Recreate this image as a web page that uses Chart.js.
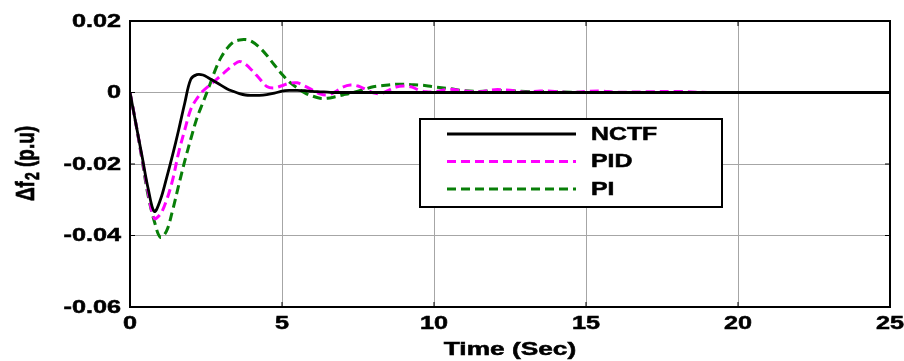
<!DOCTYPE html>
<html>
<head>
<meta charset="utf-8">
<script src="https://cdn.jsdelivr.net/npm/chart.js@4.4.0/dist/chart.umd.min.js"></script>
<style>
  body { margin: 0; background: #fff; }
  canvas { display: block; }
</style>
</head>
<body>
<canvas id="chart" width="904" height="361"></canvas>
<script>
// time axis (sec)
var time = [0, 0.2, 0.4, 0.6, 0.8, 1.0, 1.2, 1.4, 1.6, 1.8, 2.0, 2.2, 2.4, 2.6, 2.8, 3.0, 3.2, 3.4, 3.6, 3.8, 4.0,
  4.25, 4.5, 4.75, 5.0, 5.25, 5.5, 5.75, 6.0, 6.25, 6.5, 6.75, 7.0, 7.25, 7.5, 7.75, 8.0, 8.25, 8.5, 8.75, 9.0, 9.25, 9.5, 9.75, 10.0,
  10.5, 11, 11.5, 12, 12.5, 13, 13.5, 14, 14.5, 15, 15.5, 16,
  17, 18, 19, 20, 21, 22, 23, 24, 25];

var nctf = [0, -0.009, -0.018, -0.027, -0.0333, -0.030, -0.024, -0.0175, -0.0105, -0.003, 0.0037, 0.005, 0.0049, 0.004, 0.003, 0.002, 0.001, 0.0003, -0.0003, -0.0007, -0.0008,
  -0.0008, -0.0006, -0.0002, 0.0004, 0.0006, 0.0006, 0.0005, 0.0003, 0.0002, 0.0001, 0, 0, 0, 0, 0, 0, 0, 0, 0, 0, 0, 0, 0, 0,
  0, 0, 0, 0, 0, 0, 0, 0, 0, 0, 0, 0,
  0, 0, 0, 0, 0, 0, 0, 0, 0];

var pid = [0, -0.009, -0.0185, -0.028, -0.0352, -0.034, -0.0302, -0.0245, -0.0168, -0.0105, -0.0047, -0.0017, 0.0004, 0.0019, 0.0033, 0.0048, 0.0063, 0.0077, 0.0087, 0.0079, 0.0063,
  0.0040, 0.0017, 0.0013, 0.0019, 0.0026, 0.0027, 0.0018, 0.0007, -0.0004, -0.0007, 0.0002, 0.0015, 0.0021, 0.0018, 0.0009, -0.0001, -0.0003, 0.0006, 0.0015, 0.0018, 0.0016, 0.0007, 0.0002, 0.0002,
  0.0009, 0.0004, 0.0002, 0.0008, 0.0006, 0.0001, 0.0004, 0.0003, 0, 0.0003, 0.0004, 0.0001,
  0.0002, 0.0003, 0, 0, 0, 0, 0, 0, 0];

var pi = [0, -0.009, -0.019, -0.029, -0.036, -0.0405, -0.0388, -0.033, -0.026, -0.0192, -0.013, -0.0072, -0.0028, 0.0016, 0.0062, 0.0099, 0.0124, 0.0141, 0.0147, 0.0148, 0.0143,
  0.0127, 0.0104, 0.0077, 0.0051, 0.0029, 0.0013, -0.0001, -0.0010, -0.0016, -0.0016, -0.0012, -0.0007, -0.0002, 0.0004, 0.0010, 0.0016, 0.0019, 0.0021, 0.0023, 0.0023, 0.0022, 0.0021, 0.0019, 0.0016,
  0.0011, 0.0005, 0.0003, 0.0005, 0.0005, 0.0003, 0.0003, 0.0002, 0.0001, 0, 0, 0,
  0, 0, 0, 0, 0, 0, 0, 0, 0];

var seriesNames = ['NCTF', 'PID', 'PI'];
var xTicks = [0, 5, 10, 15, 20, 25];
var yTicks = [-0.06, -0.04, -0.02, 0, 0.02];
var xTitle = 'Time (Sec)';

function pts(vals) {
  return time.map(function(t, i) { return { x: t, y: vals[i] }; });
}

var FONT = "'Liberation Sans', Arial, sans-serif";

// the source picture has wide (horizontally stretched), heavy bold lettering
function wideText(ctx, txt, x, y, align, size, sx) {
  ctx.save();
  ctx.translate(x, y);
  ctx.scale(sx, 1);
  ctx.font = 'bold ' + size + 'px ' + FONT;
  ctx.fillStyle = '#000';
  ctx.strokeStyle = '#000';
  ctx.lineWidth = 0.5;
  ctx.textAlign = align;
  ctx.textBaseline = 'middle';
  ctx.fillText(txt, 0, 0);
  ctx.strokeText(txt, 0, 0);
  ctx.restore();
}

function fmtY(v) { return Math.abs(v) < 1e-9 ? '0' : v.toFixed(2); }

// axis box, inward ticks, tick labels and axis titles, MATLAB style
var boxPlugin = {
  id: 'box',
  afterDatasetsDraw: function(chart) {
    var ctx = chart.ctx, a = chart.chartArea;
    var xs = chart.scales.x, ys = chart.scales.y;
    ctx.save();
    ctx.strokeStyle = '#000';
    ctx.lineWidth = 1;
    xTicks.forEach(function(v) {
      var px = xs.getPixelForValue(v);
      ctx.beginPath();
      ctx.moveTo(px, a.bottom); ctx.lineTo(px, a.bottom - 5);
      ctx.moveTo(px, a.top); ctx.lineTo(px, a.top + 5);
      ctx.stroke();
    });
    yTicks.forEach(function(v) {
      var py = ys.getPixelForValue(v);
      ctx.beginPath();
      ctx.moveTo(a.left, py); ctx.lineTo(a.left + 5, py);
      ctx.moveTo(a.right, py); ctx.lineTo(a.right - 5, py);
      ctx.stroke();
    });
    ctx.lineWidth = 2;
    ctx.strokeRect(a.left, a.top, a.right - a.left, a.bottom - a.top);
    ctx.restore();

    xs.ticks.forEach(function(t) {
      wideText(ctx, String(t.value), xs.getPixelForValue(t.value), a.bottom + 17, 'center', 18, 1.4);
    });
    ys.ticks.forEach(function(t) {
      wideText(ctx, fmtY(t.value), a.left - 9, ys.getPixelForValue(t.value) + 1, 'right', 18, 1.4);
    });
    wideText(ctx, xTitle, (a.left + a.right) / 2, 350, 'center', 18, 1.46);

    // y title: Δf with subscript 2, rotated
    ctx.save();
    ctx.translate(27, (a.top + a.bottom) / 2);
    ctx.scale(1.4, 1);
    ctx.rotate(-Math.PI / 2);
    ctx.fillStyle = '#000';
    ctx.strokeStyle = '#000';
    ctx.lineWidth = 0.5;
    ctx.textBaseline = 'middle';
    ctx.textAlign = 'left';
    var big = 'bold 19px ' + FONT, small = 'bold 14px ' + FONT;
    var p1 = 'Δf', p2 = '2', p3 = ' (p.u)';
    ctx.font = big; var w1 = ctx.measureText(p1).width, w3 = ctx.measureText(p3).width;
    ctx.font = small; var w2 = ctx.measureText(p2).width;
    var x0 = -(w1 + w2 + w3) / 2;
    ctx.font = big; ctx.fillText(p1, x0, 0); ctx.strokeText(p1, x0, 0);
    ctx.font = small; ctx.fillText(p2, x0 + w1 + 1, 5); ctx.strokeText(p2, x0 + w1 + 1, 5);
    ctx.font = big; ctx.fillText(p3, x0 + w1 + w2 + 1, 0); ctx.strokeText(p3, x0 + w1 + w2 + 1, 0);
    ctx.restore();
  }
};

// boxed legend inside the plot
var legendPlugin = {
  id: 'boxLegend',
  afterDraw: function(chart) {
    var ctx = chart.ctx;
    var bx = 420, by = 119, bw = 302, bh = 88;
    ctx.save();
    ctx.fillStyle = '#fff';
    ctx.fillRect(bx, by, bw, bh);
    ctx.strokeStyle = '#000';
    ctx.lineWidth = 2;
    ctx.strokeRect(bx, by, bw, bh);
    chart.data.datasets.forEach(function(ds, i) {
      var ly = by + 15 + i * 27.5;
      ctx.beginPath();
      ctx.setLineDash(ds.borderDash || []);
      ctx.strokeStyle = ds.borderColor;
      ctx.lineWidth = ds.borderWidth;
      ctx.moveTo(447, ly);
      ctx.lineTo(576, ly);
      ctx.stroke();
      ctx.setLineDash([]);
      wideText(ctx, ds.label, 591, ly + 1, 'left', 18, 1.38);
    });
    ctx.restore();
  }
};

new Chart(document.getElementById('chart'), {
  type: 'line',
  data: {
    datasets: [
      {
        label: seriesNames[0],
        data: pts(nctf),
        borderColor: '#000000',
        borderWidth: 2.8,
        pointRadius: 0,
        tension: 0.35
      },
      {
        label: seriesNames[1],
        data: pts(pid),
        borderColor: '#ff00ff',
        borderWidth: 3,
        borderDash: [9, 5],
        pointRadius: 0,
        tension: 0.35
      },
      {
        label: seriesNames[2],
        data: pts(pi),
        borderColor: '#087f08',
        borderWidth: 3,
        borderDash: [9, 5],
        pointRadius: 0,
        tension: 0.35
      }
    ]
  },
  options: {
    responsive: false,
    animation: false,
    layout: { padding: { top: 21, right: 14, left: 0, bottom: 0 } },
    plugins: {
      legend: { display: false },
      tooltip: { enabled: false }
    },
    scales: {
      x: {
        type: 'linear',
        min: 0, max: 25,
        afterBuildTicks: function(s) { s.ticks = xTicks.map(function(v) { return { value: v }; }); },
        afterFit: function(s) { s.height = 54; },
        grid: { color: '#a6a6a6', lineWidth: 1, drawTicks: false },
        border: { display: false },
        ticks: { display: false }
      },
      y: {
        min: -0.06, max: 0.02,
        afterBuildTicks: function(s) { s.ticks = yTicks.map(function(v) { return { value: v }; }); },
        afterFit: function(s) { s.width = 130; },
        grid: { color: '#a6a6a6', lineWidth: 1, drawTicks: false },
        border: { display: false },
        ticks: { display: false }
      }
    }
  },
  plugins: [boxPlugin, legendPlugin]
});
</script>
</body>
</html>
